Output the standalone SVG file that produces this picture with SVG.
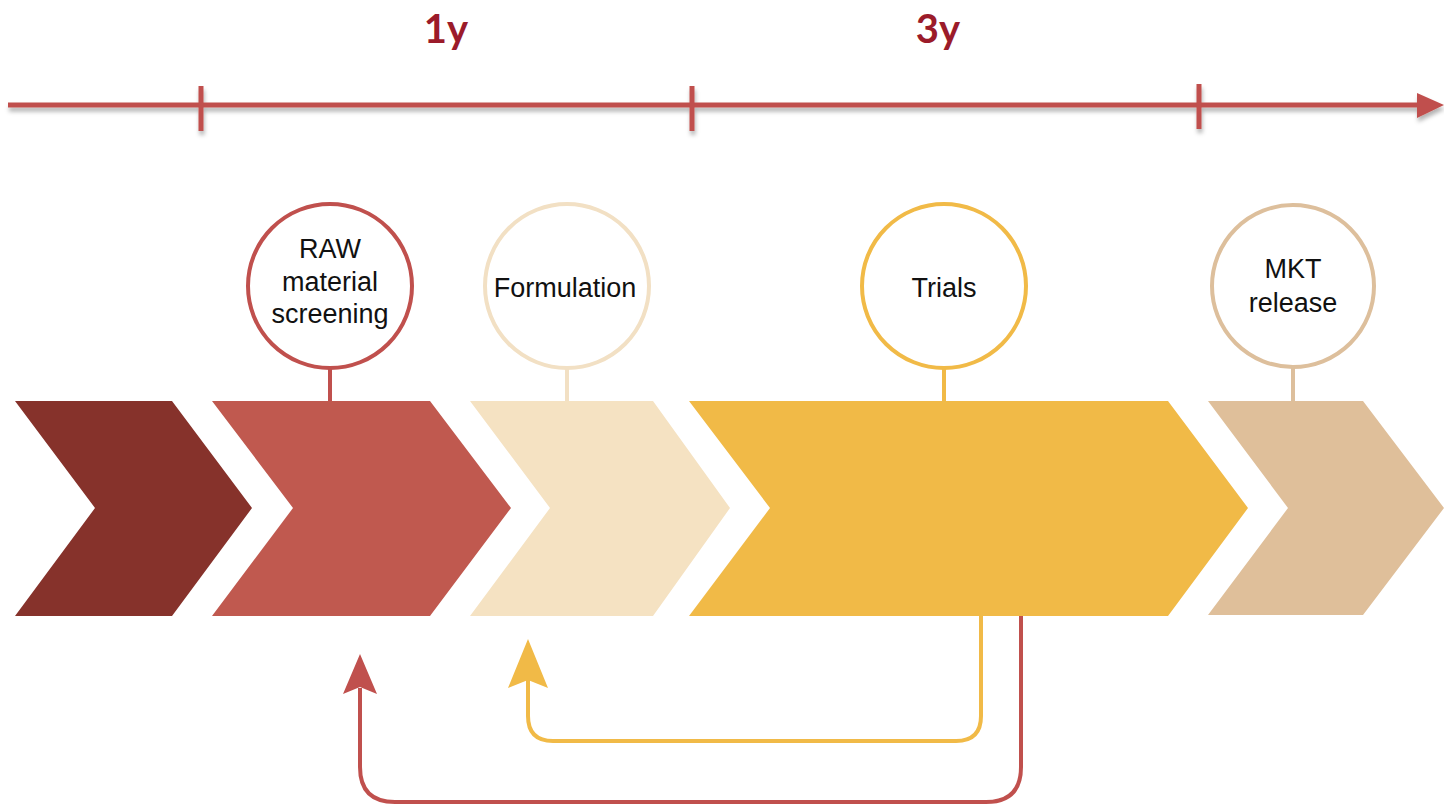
<svg xmlns="http://www.w3.org/2000/svg" width="1444" height="806" viewBox="0 0 1444 806">
<style>
.lbl{font-family:"Liberation Sans",Arial,sans-serif;font-size:27px;fill:#111;text-anchor:middle}
.yr{font-family:Lato,"Open Sans",sans-serif;font-weight:bold;font-size:40px;fill:#9B1B2A;text-anchor:middle}
.circ{fill:#fff;stroke-width:4}
.tl{stroke:#C0504D;stroke-width:5;fill:none}
.loop{fill:none;stroke-width:4}
</style>
<defs>
<filter id="sh" x="-5%" y="-50%" width="110%" height="300%">
<feDropShadow dx="1" dy="4" stdDeviation="2" flood-color="#000" flood-opacity="0.3"/>
</filter>
</defs>
<rect width="1444" height="806" fill="#fff"/>
<g id="timeline" filter="url(#sh)">
<line class="tl" x1="8" y1="105" x2="1420" y2="105"/>
<line class="tl" x1="201" y1="86" x2="201" y2="131"/>
<line class="tl" x1="692" y1="86" x2="692" y2="131"/>
<line class="tl" x1="1199" y1="84" x2="1199" y2="129"/>
<polygon points="1417,93 1444,105 1417,118" fill="#C0504D"/>
</g>
<text class="yr" x="446" y="43">1y</text>
<text class="yr" x="938" y="43">3y</text>
<g id="chev0"><polygon points="15,401 172,401 252,508 172,616 15,616 95,508" fill="#86322B"/></g>
<g id="chev1">
<line x1="330" y1="368" x2="330" y2="401" stroke="#C0504D" stroke-width="4"/>
<polygon points="212,401 430,401 511,508 430,616 212,616 293,508" fill="#C0594F"/>
<circle class="circ" cx="330" cy="286" r="82" stroke="#C0504D"/>
<text class="lbl" x="330" y="258">RAW</text>
<text class="lbl" x="330" y="291">material</text>
<text class="lbl" x="330" y="323">screening</text>
</g>
<g id="chev2">
<line x1="567" y1="368" x2="567" y2="401" stroke="#F2E0C4" stroke-width="4"/>
<polygon points="470,401 653,401 730,508 653,616 470,616 550,508" fill="#F5E2C2"/>
<circle class="circ" cx="567" cy="286" r="82" stroke="#F2E0C4"/>
<text class="lbl" x="565" y="297">Formulation</text>
</g>
<g id="chev3">
<line x1="944" y1="368" x2="944" y2="401" stroke="#F1BA47" stroke-width="4"/>
<polygon points="689,401 1168,401 1248,508 1168,616 689,616 770,508" fill="#F1BA47"/>
<circle class="circ" cx="944" cy="286" r="82" stroke="#F1BA47"/>
<text class="lbl" x="944" y="297">Trials</text>
</g>
<g id="chev4">
<line x1="1293" y1="368" x2="1293" y2="401" stroke="#DDBF9C" stroke-width="4"/>
<polygon points="1208,401 1363,401 1444,508 1363,615 1208,615 1288,508" fill="#DFBF9A"/>
<circle class="circ" cx="1293" cy="286" r="81" stroke="#DDBF9C"/>
<text class="lbl" x="1293" y="278">MKT</text>
<text class="lbl" x="1293" y="312">release</text>
</g>
<g id="connectors">
<path class="loop" stroke="#F1BA47" d="M981,616 V716 Q981,741 956,741 H553 Q528,741 528,716 V680"/>
<polygon points="528,639 548,688 528,680 508,688" fill="#F1BA47"/>
<path class="loop" stroke="#C0504D" d="M1021,616 V767 Q1021,802 986,802 H395 Q360,802 360,767 V688"/>
<polygon points="360,654 377,694 360,687 343,694" fill="#C0504D"/>
</g>
</svg>
